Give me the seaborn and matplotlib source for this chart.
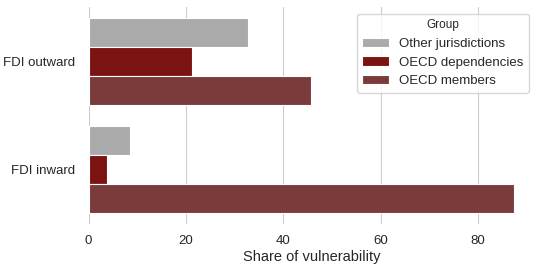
import matplotlib
matplotlib.use("Agg")
import matplotlib.pyplot as plt
import seaborn as sns
import pandas as pd

categories = ["FDI outward", "FDI inward"]
groups = ["Other jurisdictions", "OECD dependencies", "OECD members"]
other_vals = [32.8, 8.5]
dep_vals = [21.3, 3.8]
member_vals = [45.6, 87.4]
palette = ["#aaaaaa", "#7b1313", "#7a3b3b"]

rows = []
for g, vals in zip(groups, [other_vals, dep_vals, member_vals]):
    for c, v in zip(categories, vals):
        rows.append({"Type": c, "Group": g, "Share": v})
df = pd.DataFrame(rows)

sns.set_theme(style="whitegrid")
plt.rcParams["font.family"] = ["Liberation Sans", "DejaVu Sans"]

fig = plt.figure(figsize=(5.42, 2.71), dpi=100)
ax = fig.add_axes([0.1635, 0.173, 0.8245, 0.801])
sns.barplot(data=df, y="Type", x="Share", hue="Group", hue_order=groups,
            order=categories, palette=palette, orient="h", ax=ax,
            edgecolor="white", linewidth=0.8, saturation=1)
ax.set_ylabel("")
ax.set_xlabel("Share of vulnerability", fontsize=10.5, labelpad=2)
ax.tick_params(axis="both", labelsize=9.5)
ax.tick_params(axis="x", pad=2)
ax.grid(axis="y", visible=False)
ax.grid(axis="x", color="#cccccc", linewidth=0.8)
for s in ax.spines.values():
    s.set_visible(False)
leg = ax.legend(title="Group", loc="upper right", fontsize=9.5,
                title_fontsize=8.5, frameon=True)
leg.get_frame().set_edgecolor("#cccccc")
fig.savefig("out.png", dpi=100)
